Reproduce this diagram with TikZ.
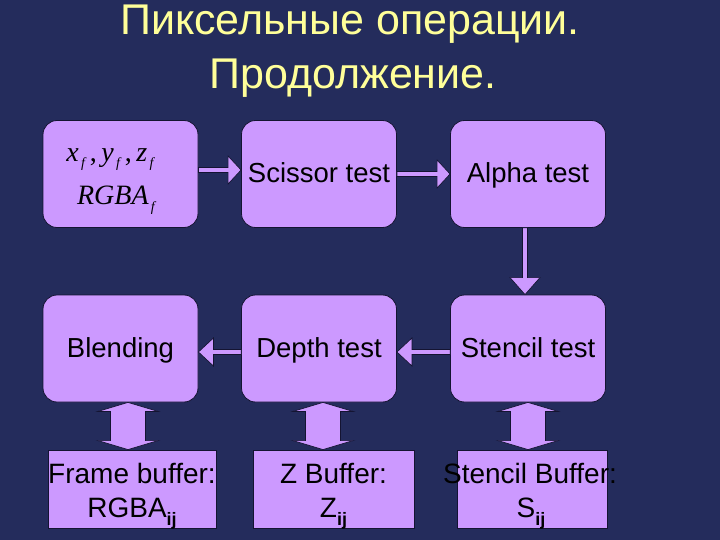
\documentclass[tikz,border=0pt]{standalone}
\usepackage{fontspec}
\setmainfont{Liberation Sans}
\newfontfamily\serifit{Liberation Serif}
\usetikzlibrary{calc}
\definecolor{bg}{RGB}{36,44,92}
\definecolor{lav}{RGB}{204,153,255}
\definecolor{ttl}{RGB}{255,255,153}
\definecolor{edgec}{RGB}{20,20,50}
\newcommand\fsub[1]{\raisebox{-6pt}{\fontsize{14}{14}\selectfont\,#1}}
\newcommand\ijsub{\raisebox{-8pt}{\fontsize{18}{18}\selectfont\bfseries ij}}
% right arrow: from, to, y
\newcommand\rarrowto[3]{\path[arr] let \p1=(#1.east), \p2=(#2.west) in
  (\x1,-#3pt+2.5pt) -- (\x2-13pt,-#3pt+2.5pt) -- (\x2-13pt,-#3pt+14pt) -- (\x2,-#3pt)
  -- (\x2-13pt,-#3pt-14pt) -- (\x2-13pt,-#3pt-2.5pt) -- (\x1,-#3pt-2.5pt) -- cycle;}
% left arrow: from, to, y
\newcommand\larrowto[3]{\path[arr] let \p1=(#1.west), \p2=(#2.east) in
  (\x1,-#3pt+2.5pt) -- (\x2+15pt,-#3pt+2.5pt) -- (\x2+15pt,-#3pt+14pt) -- (\x2,-#3pt)
  -- (\x2+15pt,-#3pt-14pt) -- (\x2+15pt,-#3pt-2.5pt) -- (\x1,-#3pt-2.5pt) -- cycle;}
% down arrow: from, to, x
\newcommand\darrowto[3]{\path[arr] let \p1=(#1.south), \p2=(#2.north) in
  (#3pt-2.5pt,\y1) -- (#3pt-2.5pt,\y2+17pt) -- (#3pt-15pt,\y2+17pt) -- (#3pt,\y2)
  -- (#3pt+15pt,\y2+17pt) -- (#3pt+2.5pt,\y2+17pt) -- (#3pt+2.5pt,\y1) -- cycle;}
% vertical double arrow: top, bottom, x
\newcommand\dblarrow[3]{\path[arr] let \p1=(#1.south), \p2=(#2.north) in
  (#3pt,\y1) -- (#3pt+30pt,\y1-9pt) -- (#3pt+17.5pt,\y1-9pt) -- (#3pt+17.5pt,\y2+9pt)
  -- (#3pt+30pt,\y2+9pt) -- (#3pt,\y2) -- (#3pt-30pt,\y2+9pt) -- (#3pt-17.5pt,\y2+9pt)
  -- (#3pt-17.5pt,\y1-9pt) -- (#3pt-30pt,\y1-9pt) -- cycle;}
\begin{document}
\begin{tikzpicture}[x=1pt,y=-1pt,
  rbox/.style={draw=edgec, fill=lav, line width=0.8pt, rounded corners=14pt,
    minimum width=155pt, minimum height=107pt, inner sep=0pt,
    text height=18pt, text depth=0pt, font=\fontsize{27.5}{33}\selectfont},
  sbox/.style={draw=edgec, fill=lav, line width=0.8pt, inner sep=0pt, minimum height=78pt},
  arr/.style={draw=edgec, fill=lav, line width=0.7pt, line join=miter},
  lbl/.style={anchor=base, inner sep=0pt, font=\fontsize{28}{34}\selectfont},
  ttlstyle/.style={anchor=base, inner sep=0pt, text=ttl, font=\fontsize{43}{52}\selectfont},
  mth/.style={anchor=base, inner sep=0pt, font=\serifit\itshape\fontsize{28}{32}\selectfont}
]
\fill[bg] (0,0) rectangle (720,540);
\useasboundingbox (0,0) rectangle (720,540);

% title
\node[ttlstyle] (t1) at (350,35) {Пиксельные операции.};
\node[ttlstyle] (t2) at (353,89) {Продолжение.};

% row 1
\node[rbox] (inp) at (120.5,174) {};
\node[mth] (m1) at (110,162) {x\fsub{f}\,\upshape,\,\itshape y\fsub{f}\,\upshape,\,\itshape z\fsub{f}};
\node[mth] (m2) at (116,205) {RGBA\fsub{f}};
\node[rbox] (sci) at (319,174) {Scissor test};
\node[rbox] (alp) at (528,174) {Alpha test};

% row 2
\node[rbox] (bld) at (120.5,348.5) {Blending};
\node[rbox] (dep) at (319,348.5) {Depth test};
\node[rbox] (ste) at (528,348.5) {Stencil test};

% row 3
\node[sbox, minimum width=168pt] (fb) at (132,489) {};
\node[lbl] (fb1) at (132,483) {Frame buffer:};
\node[lbl] (fb2) at (132,517) {RGBA\ijsub};
\node[sbox, minimum width=161pt] (zb) at (333.5,489) {};
\node[lbl] (zb1) at (333.5,483) {Z Buffer:};
\node[lbl] (zb2) at (333.5,517) {Z\ijsub};
\node[sbox, minimum width=150pt] (sb) at (532,489) {};
\node[lbl] (sb1) at (530,483) {Stencil Buffer:};
\node[lbl] (sb2) at (531,517) {S\ijsub};

% connectors
\rarrowto{inp}{sci}{170}
\rarrowto{sci}{alp}{174}
\darrowto{alp}{ste}{525}
\larrowto{ste}{dep}{352}
\larrowto{dep}{bld}{352}
\dblarrow{bld}{fb}{128}
\dblarrow{dep}{zb}{323}
\dblarrow{ste}{sb}{528}
\end{tikzpicture}
\end{document}
